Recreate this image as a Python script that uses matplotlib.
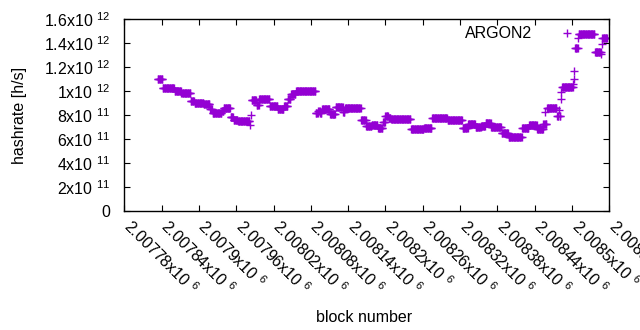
import numpy as np
import matplotlib
matplotlib.use("Agg")
import matplotlib.pyplot as plt
import matplotlib.transforms as mtransforms

plt.rcParams['font.family'] = ['Liberation Sans', 'DejaVu Sans']
plt.rcParams['mathtext.fontset'] = 'custom'
plt.rcParams['mathtext.rm'] = 'Liberation Sans'
plt.rcParams['mathtext.it'] = 'Liberation Sans'
plt.rcParams['mathtext.default'] = 'regular'

FS = 11.5
BASE_BLOCK = 2007780
# run-length data: block offsets (from BASE_BLOCK) and hashrate in units of 1e12 h/s
seg_start = [54, 62, 81, 92, 107, 113, 128, 138, 142, 157, 160, 171, 176, 183, 202, 204,
             205, 213, 217, 234, 247, 257, 263, 268, 276, 308, 312, 315, 318, 331, 340, 352,
             355, 381, 389, 398, 408, 416, 420, 425, 429, 461, 482, 495, 520, 544, 553, 565,
             574, 581, 590, 607, 618, 640, 651, 664, 674, 677, 678, 680, 696, 699, 700, 702,
             703, 704, 722, 723, 724, 725, 730, 731, 757, 767, 768, 769]
seg_end = [61, 80, 91, 106, 112, 127, 137, 141, 156, 159, 170, 175, 182, 201, 202, 204,
           212, 216, 233, 246, 256, 262, 267, 275, 307, 311, 314, 317, 330, 339, 351, 354,
           380, 388, 397, 407, 415, 419, 424, 428, 460, 481, 494, 519, 543, 552, 564, 573,
           580, 589, 606, 617, 639, 650, 663, 673, 676, 677, 679, 695, 698, 699, 701, 702,
           703, 721, 722, 723, 724, 729, 730, 756, 766, 767, 768, 776]
seg_value = [1.097, 1.022, 1.004, 0.980, 0.914, 0.903, 0.890, 0.850, 0.817, 0.833, 0.858, 0.786,
             0.758, 0.747, 0.717, 0.800, 0.928, 0.883, 0.930, 0.872, 0.847, 0.875, 0.930, 0.972,
             0.997, 0.815, 0.835, 0.820, 0.847, 0.808, 0.864, 0.828, 0.856, 0.758, 0.706, 0.717,
             0.690, 0.740, 0.790, 0.775, 0.764, 0.681, 0.690, 0.772, 0.755, 0.694, 0.722, 0.703,
             0.708, 0.731, 0.697, 0.647, 0.619, 0.688, 0.717, 0.683, 0.725, 0.825, 0.725, 0.856,
             0.790, 0.840, 0.790, 0.933, 0.994, 1.036, 1.060, 1.100, 1.167, 1.364, 1.440, 1.480,
             1.328, 1.306, 1.390, 1.440]

x_ticks = [2007780, 2007840, 2007900, 2007960, 2008020, 2008080, 2008140, 2008200,
           2008260, 2008320, 2008380, 2008440, 2008500, 2008560]
y_ticks = [0, 2e11, 4e11, 6e11, 8e11, 1e12, 1.2e12, 1.4e12, 1.6e12]
y_tick_labels = ['0', '2x10 $^{11}\\enspace$', '4x10 $^{11}\\enspace$', '6x10 $^{11}\\enspace$',
                 '8x10 $^{11}\\enspace$', '1x10 $^{12}\\enspace$', '1.2x10 $^{12}\\enspace$',
                 '1.4x10 $^{12}\\enspace$', '1.6x10 $^{12}\\enspace$']

blocks = []
rates = []
for s, e, v in zip(seg_start, seg_end, seg_value):
    for b in range(s, e + 1):
        blocks.append(BASE_BLOCK + b)
        rates.append(v * 1e12)

fig = plt.figure(figsize=(6.4, 3.3), dpi=100)
ax = fig.add_axes([0.1942, 0.3615, 0.952 - 0.1942, 0.9415 - 0.3615])

ax.plot(blocks, rates, linestyle='none', marker='+', markersize=5.5, markeredgewidth=1.0,
        color='#9400D3', label='ARGON2')

ax.set_xlim(x_ticks[0], x_ticks[-1])
ax.set_ylim(0, 1.6e12)
ax.set_xticks(x_ticks)
ax.set_xticklabels(['%gx10 $^{6}$' % (t / 1e6) for t in x_ticks], rotation=-45,
                   ha='left', va='baseline', rotation_mode='anchor', fontsize=FS)
ax.set_yticks(y_ticks)
ax.set_yticklabels(y_tick_labels, fontsize=FS)
ax.tick_params(direction='in', length=4, width=0.8, top=True, right=True)
ax.tick_params(axis='y', pad=10)
ax.tick_params(axis='x', pad=10)
for sp in ax.spines.values():
    sp.set_linewidth(1.0)

shift = mtransforms.ScaledTranslation(-2 / 100, -3 / 100, fig.dpi_scale_trans)
for lbl in ax.get_xticklabels():
    lbl.set_transform(lbl.get_transform() + shift)

ax.set_ylabel('hashrate [h/s]', fontsize=FS)
ax.set_xlabel('block number', fontsize=FS)
ax.xaxis.set_label_coords(0.494, -0.52)
ax.yaxis.set_label_coords(-0.2, 0.5)

ax.legend(loc='upper right', markerfirst=False, frameon=False, fontsize=FS,
          handlelength=1.0, handletextpad=1.7, bbox_to_anchor=(0.9425, 0.996),
          borderaxespad=0.0)

fig.savefig('out.png', dpi=100)
